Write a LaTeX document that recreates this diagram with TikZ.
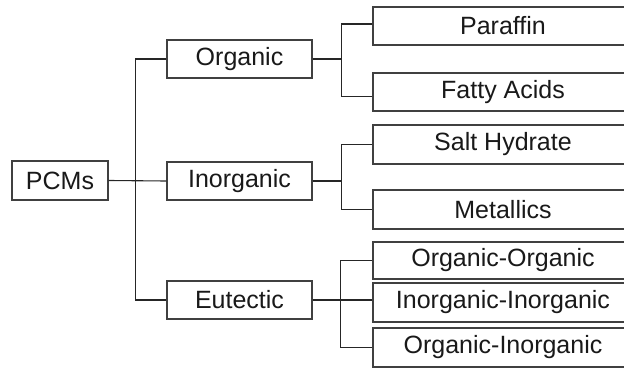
\documentclass[tikz,border=0pt]{standalone}
\usepackage{fontspec}
\setmainfont{Liberation Sans}
\begin{document}
\begin{tikzpicture}[x=1pt,y=-1pt,
  box/.style={draw=black!75, line width=1.3pt, fill=white, inner sep=0pt,
    font=\fontsize{25}{30}\selectfont, text=black!90},
  link/.style={draw=black!85, line width=1.1pt}]
\useasboundingbox (0,0) rectangle (624,369);
% level 0
\node[box, minimum width=96pt, minimum height=39pt] (pcm) at (60,180.5) {PCMs};
% level 1
\node[box, minimum width=145pt, minimum height=38pt] (org) at (239.5,59) {Organic};
\node[box, minimum width=145pt, minimum height=38pt] (ino) at (239.5,181) {Inorganic};
\node[box, minimum width=145pt, minimum height=38pt] (eut) at (239.5,300) {Eutectic};
% level 2
\node[box, minimum width=260pt, minimum height=38pt] (par) at (503,26) {Paraffin};
\node[box, minimum width=260pt, minimum height=38pt] (fat) at (503,92) {Fatty Acids};
\node[box, minimum width=260pt, minimum height=39pt] (sal) at (503,144.5) {Salt Hydrate};
\node[box, minimum width=260pt, minimum height=39pt] (met) at (503,209.5) {Metallics};
\node[box, minimum width=260pt, minimum height=37pt] (oo) at (503,260.5) {Organic-Organic};
\node[box, minimum width=260pt, minimum height=39pt] (ii) at (503,302.5) {Inorganic-Inorganic};
\node[box, minimum width=260pt, minimum height=39pt] (oi) at (503,347.5) {Organic-Inorganic};
% connectors level 0 -> 1
\draw[link] (pcm.east) -- (ino.west);
\draw[link] (org.west) -- ++(-30.5,0) coordinate (t1) |- (eut.west);
% Organic
\draw[link] (org.east) -- ++(28.5,0) coordinate (j1);
\draw[link] ([yshift=2pt]par.west) -| (j1) |- ([yshift=-4.5pt]fat.west);
% Inorganic
\draw[link] (ino.east) -- ++(28.5,0) coordinate (j2);
\draw[link] (sal.west) -| (j2) |- (met.west);
% Eutectic
\draw[link] (eut.east) -- (eut.east -| ii.west);
\draw[link] (oo.west) -- ++(-32,0) coordinate (j3) |- (oi.west);
\end{tikzpicture}
\end{document}
